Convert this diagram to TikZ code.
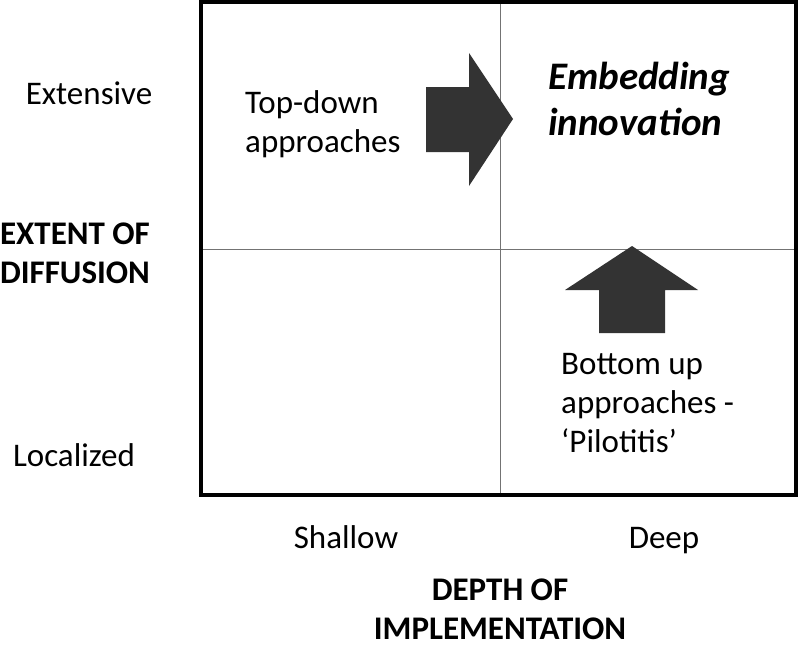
\documentclass[tikz,border=0pt]{standalone}
\usepackage{fontspec}
\setmainfont{Carlito}
\begin{document}
\begin{tikzpicture}
[x=1pt,y=-1pt,
lbl/.style={inner sep=0pt,font=\fontsize{33}{39}\selectfont},
heading/.style={lbl,align=center,font=\fontsize{33}{39}\selectfont\bfseries},
block/.style={fill=black!80}]
\useasboundingbox (0,0) rectangle (800,645);
% quadrants
\draw[black!55,line width=1pt] (500,2) -- (500,495) (201,249) -- (796,249);
\draw[line width=4pt] (201,2) rectangle (796,495);
% arrows
\fill[block] (426,87) -- (469,87) -- (469,53) -- (513,119) -- (469,186) -- (469,152) -- (426,152) -- cycle;
\fill[block] (599,333) -- (599,290) -- (565,290) -- (632,246) -- (698,290) -- (665,290) -- (665,333) -- cycle;
% axis labels
\node[lbl,anchor=base] (ext) at (89,104) {Extensive};
\node[lbl,anchor=base] (loc) at (74,466) {Localized};
\node[heading,anchor=base] (diff) at (75,283) {EXTENT OF\\DIFFUSION};
\node[lbl,anchor=base] (shallow) at (346,548) {Shallow};
\node[lbl,anchor=base] (deep) at (664,548) {Deep};
\node[heading,anchor=base] (depth) at (500,639) {DEPTH OF\\IMPLEMENTATION};
% quadrant texts
\node[lbl,align=left,anchor=base west] (top) at (245,152) {Top-down\\approaches};
\node[lbl,align=left,anchor=base west,font=\fontsize{39}{46}\selectfont\bfseries\itshape] (embed) at (548,135) {Embedding\\innovation};
\node[lbl,align=left,anchor=base west] (bottom) at (561,452) {Bottom up\\approaches -\\‘Pilotitis’};
\end{tikzpicture}
\end{document}
